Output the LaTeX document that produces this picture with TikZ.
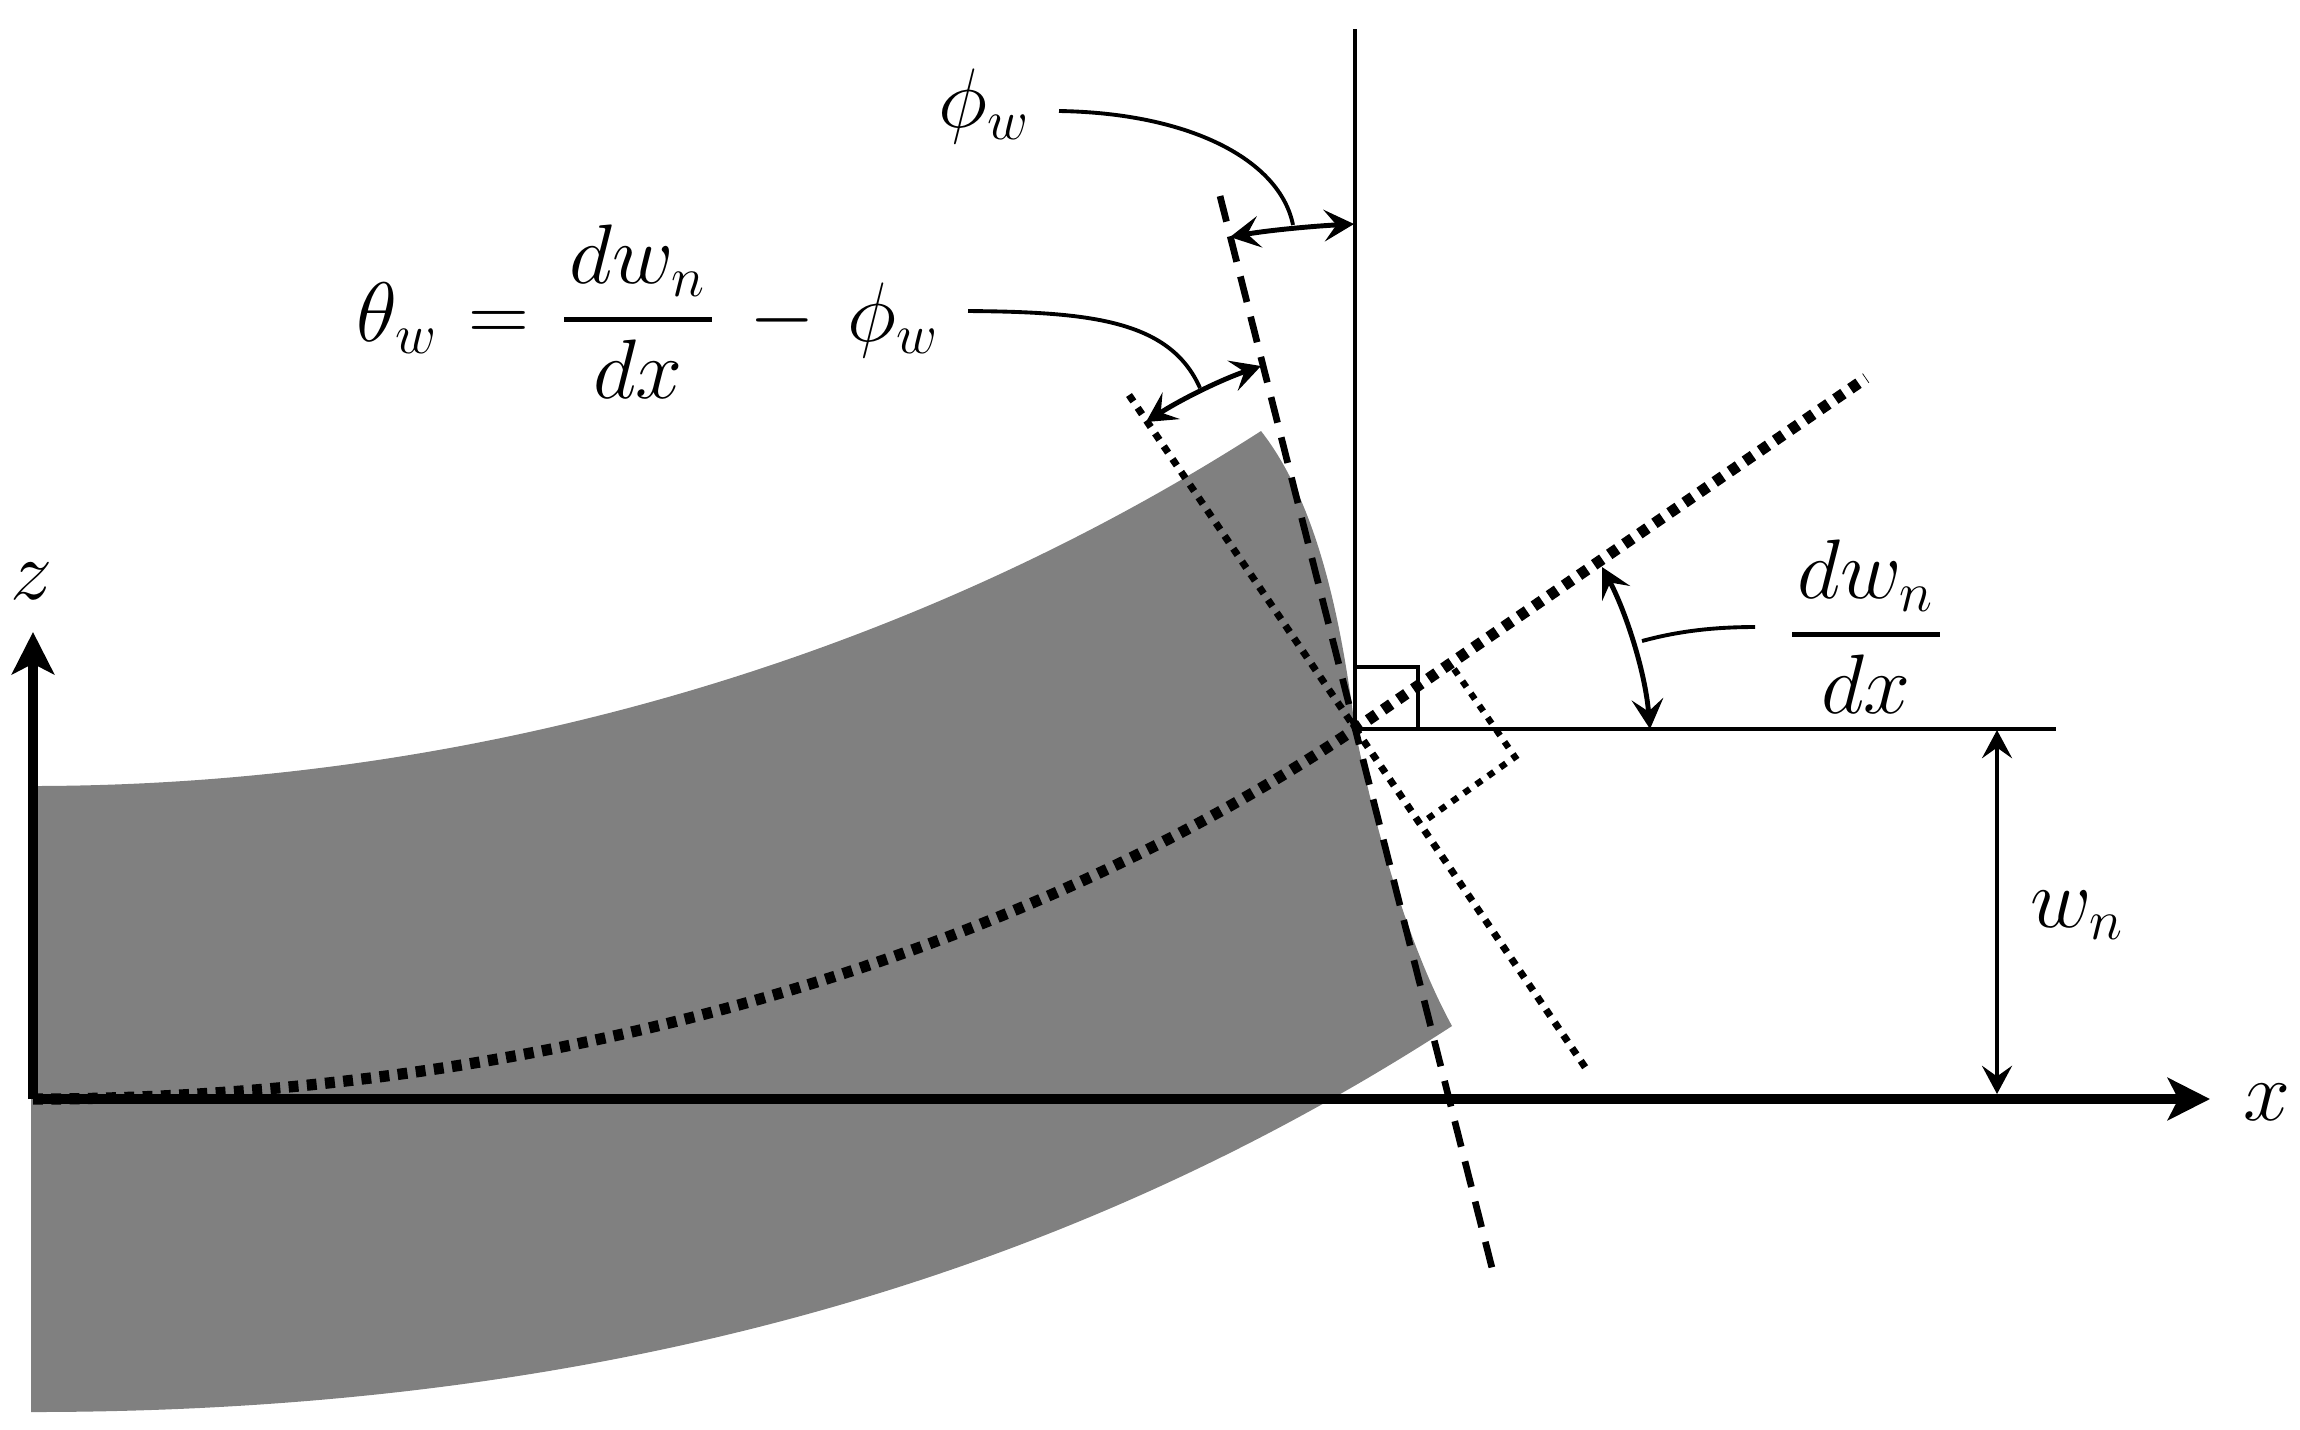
\documentclass[tikz,border=0pt]{standalone}
\usepackage{fix-cm}
\usepackage{amsmath}
\usepackage{tikz}
\usetikzlibrary{arrows.meta, positioning, calc}
\DeclareMathSizes{24}{24}{16}{11}
\definecolor{mygray}{gray}{0.5}
\newcommand{\dwdx}{\genfrac{}{}{1.4pt}{0}{\mkern1.2mu dw_n\mkern1.2mu}{dx}}
\tikzset{
    axisline/.style={line width=3.1pt, -{Stealth[length=12pt, width=12pt, inset=3pt]}},
    thinline/.style={line width=1.4pt},
    anglearrow/.style={line width=1.4pt, {Stealth[length=8.5pt, width=9pt, inset=3.5pt]}-{Stealth[length=8.5pt, width=9pt, inset=3.5pt]}},
    leaderline/.style={line width=1.1pt},
    dashline/.style={line width=1.9pt, dash pattern=on 7.5pt off 4.3pt},
    dotthick/.style={line width=3.2pt, dash pattern=on 2.8pt off 2.4pt},
    dotthin/.style={line width=2pt, dash pattern=on 2.2pt off 2.2pt},
    dotbox/.style={line width=1.8pt, dash pattern=on 2pt off 2.2pt},
    mathlabel/.style={anchor=base, inner sep=0pt, font=\fontsize{24}{29}\selectfont},
}
\begin{document}
\begin{tikzpicture}[x=0.01cm, y=-0.01cm]
    \useasboundingbox (0,0) rectangle (2300,1429);
    % main points
    \coordinate (origin) at (33,1099);
    \coordinate (pivot) at (1355,729);
    \coordinate (xtip) at (2210,1099);
    \coordinate (ztip) at (33,632);
    \coordinate (vertop) at (1355,29);
    \coordinate (horend) at (2056,729);
    \coordinate (dashtop) at (1220,196);
    \coordinate (dashend) at (1492,1268);
    \coordinate (normtop) at (1129,395);
    \coordinate (normend) at (1587,1070);
    \coordinate (slopeend) at (1866,378);

    % beam
    \fill[mygray] (31,786) .. controls (490,786) and (920,650) .. (1261,431)
        .. controls (1315,500) and (1340,610) .. (pivot)
        .. controls (1372,815) and (1405,940) .. (1452,1026)
        .. controls (1020,1306) and (540,1412) .. (31,1412) -- cycle;

    % reference lines
    \draw[thinline] (vertop) -- (pivot) -- (horend);
    \draw[thinline] (1355,667) -- (1418,667) -- (1418,729);

    % rotated lines
    \draw[dashline] (dashtop) -- (dashend);
    \draw[dotthin] (normtop) -- (normend);
    \draw[dotthick] (origin) .. controls (520,1099) and (1000,968) .. (pivot) -- (slopeend);
    \draw[dotbox] (1454,669) -- (1515,757) -- (1423,822);

    % axes
    \draw[axisline] (origin) -- (xtip);
    \draw[axisline] (origin) -- (ztip);
    \node[mathlabel] (xlabel) at (2267,1120) {$x$};
    \node[mathlabel] (zlabel) at (32,599) {$z$};

    % w_n
    \coordinate (wntop) at (1997,730);
    \coordinate (wnend) at (1997,1094);
    \draw[line width=1.4pt, {Stealth[length=8pt, width=8.5pt, inset=3pt]}-{Stealth[length=8pt, width=8.5pt, inset=3pt]}] (wntop) -- (wnend);
    \node[mathlabel] (wnlabel) at (2077,927) {$w_n$};

    % phi_w
    \node[mathlabel] (philabel) at (984,127) {$\phi_w$};
    \coordinate (phileft) at (1230,237);
    \coordinate (phiright) at (1354,224);
    \coordinate (phifrom) at (1059,111);
    \coordinate (phito) at (1293,225);
    \draw[anglearrow] (phileft) .. controls (1270,230) and (1315,226) .. (phiright);
    \draw[leaderline] (phifrom) .. controls (1190,113) and (1280,160) .. (phito);

    % theta_w
    \node[mathlabel] (thetalabel) at (648,341) {$\displaystyle \theta_w \mkern1.5mu = \mkern1.5mu \dwdx \mkern3mu - \mkern3mu \phi_w$};
    \coordinate (thetaleft) at (1146,422);
    \coordinate (thetaright) at (1261,366);
    \coordinate (thetafrom) at (968,311);
    \coordinate (thetato) at (1200,388);
    \draw[anglearrow] (thetaleft) .. controls (1180,400) and (1220,380) .. (thetaright);
    \draw[leaderline] (thetafrom) .. controls (1090,312) and (1170,320) .. (thetato);

    % slope
    \node[mathlabel] (slopelabel) at (1866,656) {$\displaystyle \dwdx$};
    \coordinate (slopetop) at (1602,567);
    \coordinate (slopebot) at (1650,729);
    \coordinate (slopefrom) at (1755,627);
    \coordinate (slopeto) at (1642,641);
    \draw[anglearrow] (slopetop) .. controls (1625,610) and (1645,670) .. (slopebot);
    \draw[leaderline] (slopefrom) .. controls (1710,627) and (1675,632) .. (slopeto);
\end{tikzpicture}
\end{document}
